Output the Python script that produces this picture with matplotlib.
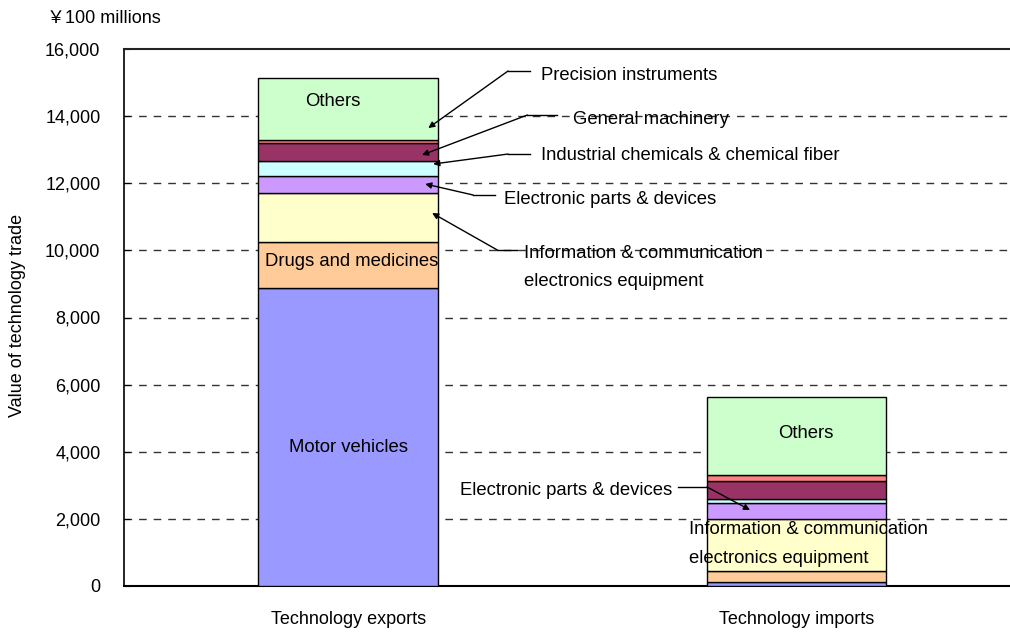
import matplotlib.pyplot as plt
import numpy as np

plt.rcParams['font.family'] = ['Liberation Sans', 'Noto Sans CJK JP', 'DejaVu Sans']

# datos (100 millones de yenes)
grupos = ['Technology exports', 'Technology imports']
categorias = ['Motor vehicles', 'Drugs and medicines',
              'Information & communication electronics equipment',
              'Electronic parts & devices',
              'Industrial chemicals & chemical fiber',
              'General machinery', 'Precision instruments', 'Others']
exportaciones = [8890, 1370, 1460, 500, 450, 520, 100, 1840]
importaciones = [110, 340, 1540, 480, 120, 525, 190, 2340]
colores = ['#9999FF', '#FFCC99', '#FFFFCC', '#CC99FF', '#CCFFFF',
           '#993366', '#FF8080', '#CCFFCC']

fig = plt.figure(figsize=(10.1, 6.32), dpi=100)
ax = fig.add_axes([124 / 1010, 46 / 632, 886 / 1010, 537 / 632])

x = np.arange(len(grupos))
base = np.zeros(len(grupos))
for i, cat in enumerate(categorias):
    vals = np.array([exportaciones[i], importaciones[i]])
    ax.bar(x, vals, bottom=base, width=0.4, color=colores[i],
           edgecolor='black', linewidth=1, zorder=3)
    base += vals

ax.set_xlim(-0.5, 1.477)
ax.set_ylim(0, 16000)
ax.set_yticks(np.arange(0, 16001, 2000))
ax.set_yticklabels([f'{v:,}' for v in range(0, 16001, 2000)], fontsize=13)
ax.set_xticks(x)
ax.set_xticklabels(grupos, fontsize=13)
ax.tick_params(axis='x', length=0, pad=18)
ax.tick_params(axis='y', direction='in', length=4, pad=17)

for v in range(2000, 16000, 2000):
    ax.axhline(v, color='#333333', linewidth=1, dashes=(5.5, 5), zorder=1)

ax.spines['right'].set_visible(False)
ax.spines['top'].set_color('#222222')
ax.spines['top'].set_linewidth(1.5)
ax.spines['left'].set_linewidth(1.2)
ax.spines['bottom'].set_linewidth(1.5)

fs = 13.3

# etiquetas dentro de las barras
ax.text(-0.033, 14450, 'Others', fontsize=fs, ha='center', va='center', zorder=5)
ax.text(0.009, 9683, 'Drugs and medicines', fontsize=fs, ha='center', va='center', zorder=5)
ax.text(0.002, 4141, 'Motor vehicles', fontsize=fs, ha='center', va='center', zorder=5)
ax.text(1.022, 4529, 'Others', fontsize=fs, ha='center', va='center', zorder=5)

# etiquetas con flecha
flechas = [
    ('Precision instruments', (0.431, 15225), (0.357, 0.406, 15345), (0.179, 13646)),
    ('General machinery', (0.502, 13914), (0.400, 0.467, 14033), (0.165, 12842)),
    ('Industrial chemicals & chemical fiber', (0.431, 12812), (0.357, 0.406, 12871), (0.190, 12573)),
    ('Electronic parts & devices', (0.348, 11501), (0.279, 0.328, 11650), (0.172, 11978)),
    ('Information & communication\nelectronics equipment', (0.393, 9490), (0.333, 0.377, 10011), (0.1875, 11113)),
    ('Electronic parts & devices', (0.25, 2831), (0.737, 0.801, 2950), (0.897, 2264)),
]
for texto, pos, linea, punta in flechas:
    ax.text(pos[0], pos[1], texto, fontsize=fs, ha='left', va='center',
            linespacing=1.9, zorder=5)
    x0, x1, yl = linea
    ax.plot([x0, x1], [yl, yl], color='black', linewidth=1, zorder=6)
    inicio = (x0, yl) if punta[0] < x0 else (x1, yl)
    ax.annotate('', xy=punta, xytext=inicio,
                arrowprops=dict(arrowstyle='-|>', color='black', lw=1,
                                mutation_scale=9, shrinkA=0, shrinkB=0),
                zorder=6)

ax.text(0.761, 1251, 'Information & communication\nelectronics equipment',
        fontsize=fs, ha='left', va='center', linespacing=1.9, zorder=5)

fig.text(18 / 1010, 1 - 315 / 632, 'Value of technology trade', rotation=90,
         fontsize=13, ha='center', va='center')
fig.text(47 / 1010, 1 - 18 / 632, '￥100 millions', fontsize=13,
         ha='left', va='center')

plt.savefig('out.png', dpi=100)
